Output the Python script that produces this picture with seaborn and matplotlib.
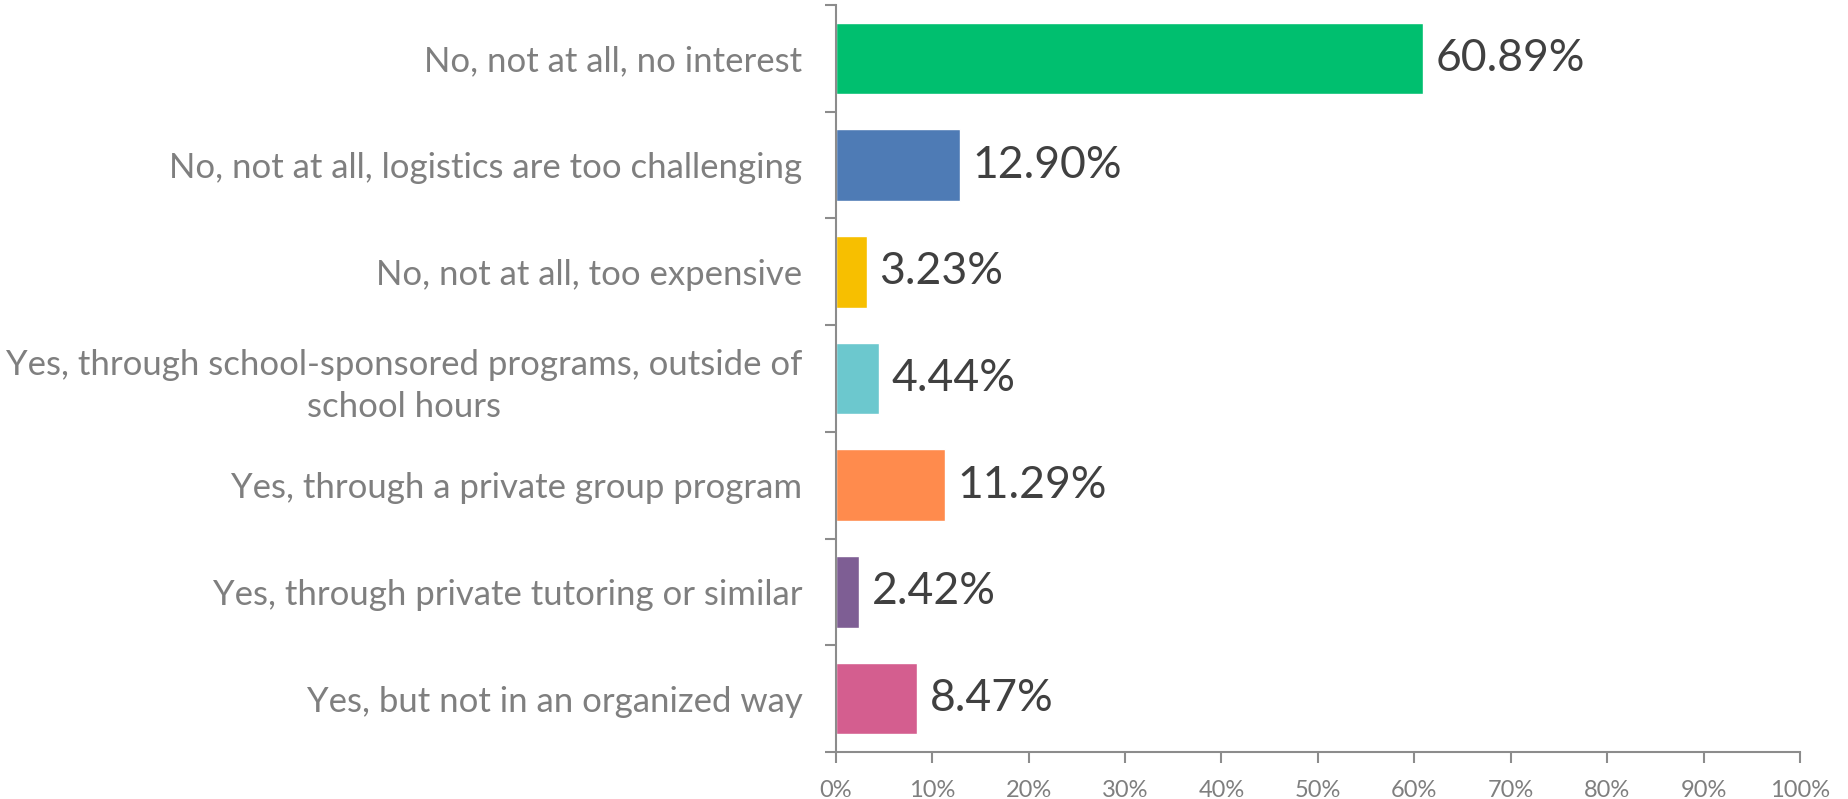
"""
Horizontal bar chart of survey responses (share of respondents).
"""

import matplotlib.pyplot as plt
from matplotlib.ticker import FixedLocator
import pandas as pd
import seaborn as sns

categories = [
    "No, not at all, no interest",
    "No, not at all, logistics are too challenging",
    "No, not at all, too expensive",
    "Yes, through school-sponsored programs, outside of\nschool hours",
    "Yes, through a private group program",
    "Yes, through private tutoring or similar",
    "Yes, but not in an organized way",
]
shares = [60.89, 12.90, 3.23, 4.44, 11.29, 2.42, 8.47]
bar_colors = ["#00BF6F", "#4E7BB5", "#F7BF00", "#6CC8CE", "#FF8B4D", "#7E5E94", "#D45E8F"]
x_ticks = list(range(0, 101, 10))

AXIS_GREY = "#8C8C8C"
LABEL_GREY = "#7F7F7F"

sns.set_style("white")
plt.rcParams["font.family"] = ["Lato", "DejaVu Sans"]

df = pd.DataFrame({"Response": categories, "Share": shares})

fig = plt.figure(figsize=(18.49, 7.99), dpi=100)
ax = fig.add_axes([0.452, 0.0588, 0.5215, 0.935])

sns.barplot(
    data=df, y="Response", x="Share", hue="Response",
    palette=bar_colors, orient="h", width=0.67, legend=False, ax=ax,
    saturation=1,
)

for container in ax.containers:
    ax.bar_label(container, fmt="%.2f%%", padding=9, fontsize=32, color="#404040")

ax.set_xlim(0, 100)
ax.set_ylim(len(categories) - 0.5, -0.5)
ax.set_xticks(x_ticks)
ax.set_xticklabels([f"{t}%" for t in x_ticks])
ax.set_xlabel("")
ax.set_ylabel("")

for side in ["top", "right"]:
    ax.spines[side].set_visible(False)
for side in ["left", "bottom"]:
    ax.spines[side].set_color(AXIS_GREY)
    ax.spines[side].set_linewidth(1.5)

# category separators as outward ticks on the y axis
ax.yaxis.set_minor_locator(FixedLocator([i - 0.5 for i in range(len(categories) + 1)]))
ax.tick_params(axis="y", which="minor", left=True, length=8, width=1.5, color=AXIS_GREY)
ax.tick_params(axis="y", which="major", left=False, length=0, pad=24,
               labelsize=25, labelcolor=LABEL_GREY)
ax.tick_params(axis="x", which="major", bottom=True, length=8, width=1.5,
               color=AXIS_GREY, labelsize=17, labelcolor=LABEL_GREY, pad=12)
for lbl in ax.get_yticklabels():
    lbl.set_multialignment("center")
    lbl.set_linespacing(1.35)

fig.savefig("out.png", dpi=100)
